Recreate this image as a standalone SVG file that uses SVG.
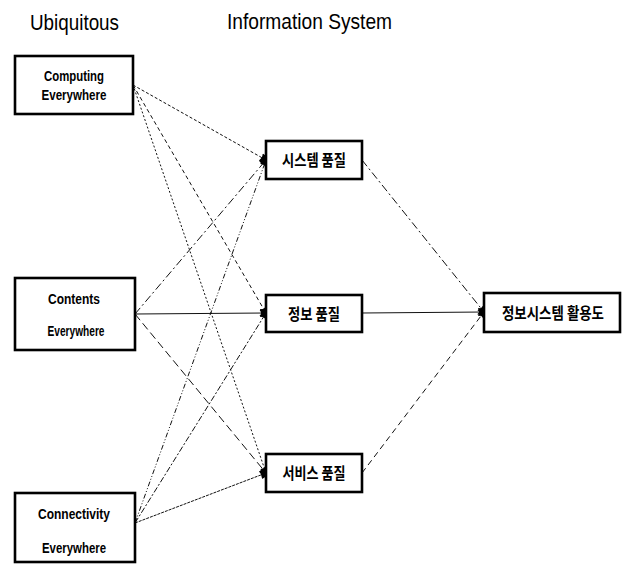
<svg xmlns="http://www.w3.org/2000/svg" width="626" height="564" viewBox="0 0 626 564">
<style>
.box{fill:#fff;stroke:#000;stroke-width:2.6}
.t{font-family:"Liberation Sans",Arial,sans-serif;font-weight:bold;font-size:15px;fill:#000;text-anchor:middle}
.k{font-family:"Noto Sans CJK KR","Liberation Sans",sans-serif;font-weight:bold;font-size:16px;fill:#000;text-anchor:middle}
.h{font-family:"Liberation Sans",Arial,sans-serif;font-size:22px;fill:#000}
.c{fill:none;stroke:#111;stroke-width:1;marker-end:url(#blob)}
</style>
<defs>
<marker id="blob" markerWidth="8" markerHeight="12" refX="6" refY="5" orient="auto" markerUnits="userSpaceOnUse" viewBox="0 0 8 12">
<path d="M0,1 Q6,1 6,5 Q6,9 0,9 Q2,5 0,1 Z" fill="#000"/>
</marker>
</defs>
<rect width="626" height="564" fill="#fff"/>
<text class="h" x="30" y="30" textLength="89" lengthAdjust="spacingAndGlyphs">Ubiquitous</text>
<text class="h" x="227" y="29" textLength="165" lengthAdjust="spacingAndGlyphs">Information System</text>
<g id="connectors">
<path class="c" d="M133,85 L266,160" stroke-dasharray="3,2"/>
<path class="c" d="M133,85 L266,313" stroke-dasharray="4,3"/>
<path class="c" d="M133,85 L266,473" stroke-dasharray="2,2"/>
<path class="c" d="M135,314 L266,160" stroke-dasharray="8,3,2,3"/>
<path class="c" d="M135,314 L266,313"/>
<path class="c" d="M135,314 L266,473" stroke-dasharray="8,4"/>
<path class="c" d="M135,523 L266,160" stroke-dasharray="5,2,1,2,1,2"/>
<path class="c" d="M135,523 L266,313" stroke-dasharray="6,2,2,2"/>
<path class="c" d="M135,523 L266,473" stroke-dasharray="3,1"/>
<path class="c" d="M362,160 L484,312" stroke-dasharray="8,3,2,3"/>
<path class="c" d="M362,313 L484,312"/>
<path class="c" d="M362,473 L484,312" stroke-dasharray="6,4"/>
</g>
<g id="computing">
<rect class="box" x="15" y="56" width="118" height="58"/>
<text class="t" x="74" y="81" textLength="60" lengthAdjust="spacingAndGlyphs">Computing</text>
<text class="t" x="74" y="100" textLength="65" lengthAdjust="spacingAndGlyphs">Everywhere</text>
</g>
<g id="contents">
<rect class="box" x="15" y="278" width="120" height="72"/>
<text class="t" x="74" y="304" textLength="52" lengthAdjust="spacingAndGlyphs">Contents</text>
<text class="t" x="76" y="336" textLength="57" lengthAdjust="spacingAndGlyphs">Everywhere</text>
</g>
<g id="connectivity">
<rect class="box" x="15" y="493" width="120" height="69"/>
<text class="t" x="74" y="519" textLength="72" lengthAdjust="spacingAndGlyphs">Connectivity</text>
<text class="t" x="74" y="553" textLength="64" lengthAdjust="spacingAndGlyphs">Everywhere</text>
</g>
<g id="system-quality">
<rect class="box" x="266" y="141" width="96" height="38"/>
<text class="k" x="314" y="166" textLength="64" lengthAdjust="spacingAndGlyphs">시스템 품질</text>
</g>
<g id="info-quality">
<rect class="box" x="266" y="295" width="96" height="37"/>
<text class="k" x="314" y="320" textLength="52" lengthAdjust="spacingAndGlyphs">정보 품질</text>
</g>
<g id="service-quality">
<rect class="box" x="266" y="454" width="96" height="38"/>
<text class="k" x="314" y="479" textLength="63" lengthAdjust="spacingAndGlyphs">서비스 품질</text>
</g>
<g id="is-usage">
<rect class="box" x="484" y="293" width="136" height="39"/>
<text class="k" x="553" y="319" textLength="102" lengthAdjust="spacingAndGlyphs">정보시스템 활용도</text>
</g>
</svg>
